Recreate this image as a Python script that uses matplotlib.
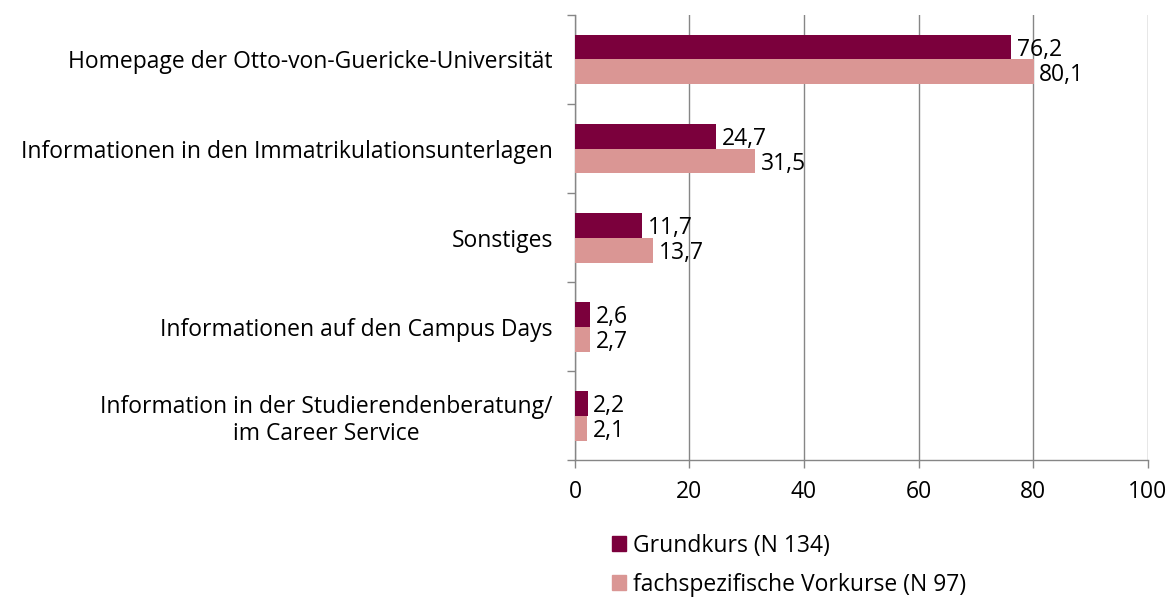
import numpy as np
import matplotlib.pyplot as plt
from matplotlib.patches import Patch

categories = [
    "Homepage der Otto-von-Guericke-Universität",
    "Informationen in den Immatrikulationsunterlagen",
    "Sonstiges",
    "Informationen auf den Campus Days",
    "Information in der Studierendenberatung/\nim Career Service",
]
grundkurs = [76.2, 24.7, 11.7, 2.6, 2.2]
vorkurse = [80.1, 31.5, 13.7, 2.7, 2.1]
series_names = ["Grundkurs (N 134)", "fachspezifische Vorkurse (N 97)"]
colors = ["#7b003c", "#da9694"]
xticks = [0, 20, 40, 60, 80, 100]

plt.rcParams['font.family'] = ['Open Sans', 'DejaVu Sans']
fs = 16.5

fig = plt.figure(figsize=(11.71, 5.97), dpi=100)
ax = fig.add_axes([0.491, 0.229, 0.489, 0.746])

n = len(categories)
y = np.arange(n)[::-1].astype(float)
h = 0.28
ax.barh(y + h / 2, grundkurs, height=h, color=colors[0], zorder=3)
ax.barh(y - h / 2, vorkurse, height=h, color=colors[1], zorder=3)

for yi, v in zip(y, grundkurs):
    ax.text(v + 1.0, yi + h / 2 - 0.03, f"{v:.1f}".replace(".", ","),
            va='center', ha='left', fontsize=fs)
for yi, v in zip(y, vorkurse):
    ax.text(v + 1.0, yi - h / 2 - 0.03, f"{v:.1f}".replace(".", ","),
            va='center', ha='left', fontsize=fs)

ax.set_xlim(0, 100)
ax.set_ylim(-0.5, n - 0.5)
ax.set_xticks(xticks)
ax.set_xticklabels([str(t) for t in xticks], fontsize=fs)
ax.set_yticks(y)
ax.set_yticklabels(categories, fontsize=fs, ha='right', multialignment='center')
ax.set_yticks(np.arange(-0.5, n, 1.0), minor=True)
ax.tick_params(axis='y', which='major', length=0, pad=16)
ax.tick_params(axis='y', which='minor', length=6, color='#868686', width=1)
ax.tick_params(axis='x', length=6, color='#868686', width=1, pad=8)

ax.grid(axis='x', color='#868686', linewidth=1, zorder=0)
for s in ['top', 'right']:
    ax.spines[s].set_visible(False)
for s in ['left', 'bottom']:
    ax.spines[s].set_color('#868686')
    ax.spines[s].set_linewidth(1)

handles = [Patch(color=c) for c in colors]
fig.legend(handles, series_names, loc='upper left', bbox_to_anchor=(0.5125, 0.125),
           frameon=False, fontsize=fs, handlelength=0.65, handleheight=0.65,
           handletextpad=0.3, labelspacing=0.65, borderpad=0)

fig.savefig("out.png", dpi=100)
